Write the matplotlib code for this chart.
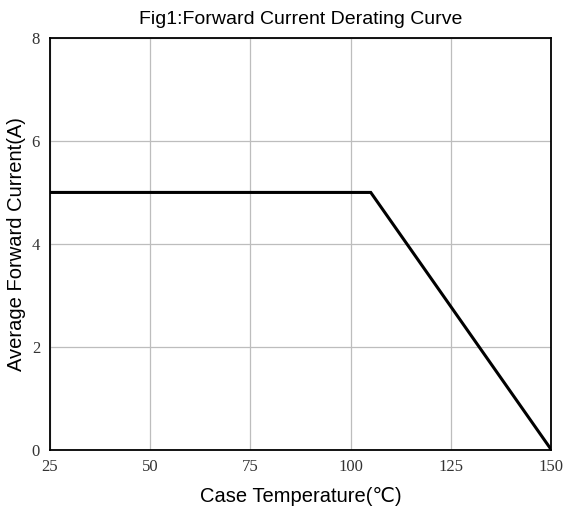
import matplotlib
matplotlib.use("Agg")
import matplotlib.pyplot as plt

# derating curve points
temp = [25, 105, 150]
current = [5, 5, 0]
xticks = [25, 50, 75, 100, 125, 150]
yticks = [0, 2, 4, 6, 8]

fig = plt.figure(figsize=(5.66, 5.14), dpi=100)
ax = fig.add_axes([0.088, 0.125, 0.886, 0.801])

ax.plot(temp, current, color='black', linewidth=2.2, solid_joinstyle='miter')
ax.set_xlim(25, 150)
ax.set_ylim(0, 8)
ax.set_xticks(xticks)
ax.set_yticks(yticks)
ax.grid(True, color='#bdbdbd', linewidth=0.9)
ax.tick_params(length=0, pad=7)
for lab in ax.get_xticklabels() + ax.get_yticklabels():
    lab.set_fontfamily('Liberation Serif')
    lab.set_fontsize(12)
    lab.set_color('#333333')
for s in ax.spines.values():
    s.set_linewidth(1.3)
    s.set_color('black')

sans = ['Liberation Sans', 'DejaVu Sans']
ax.set_title('Fig1:Forward Current Derating Curve', family=sans, fontsize=14, pad=10)
ax.set_xlabel('Case Temperature(℃)', family=sans, fontsize=14.5, labelpad=8)
ax.set_ylabel('Average Forward Current(A)', family=sans, fontsize=14.5, labelpad=4)

fig.savefig('out.png', dpi=100)
